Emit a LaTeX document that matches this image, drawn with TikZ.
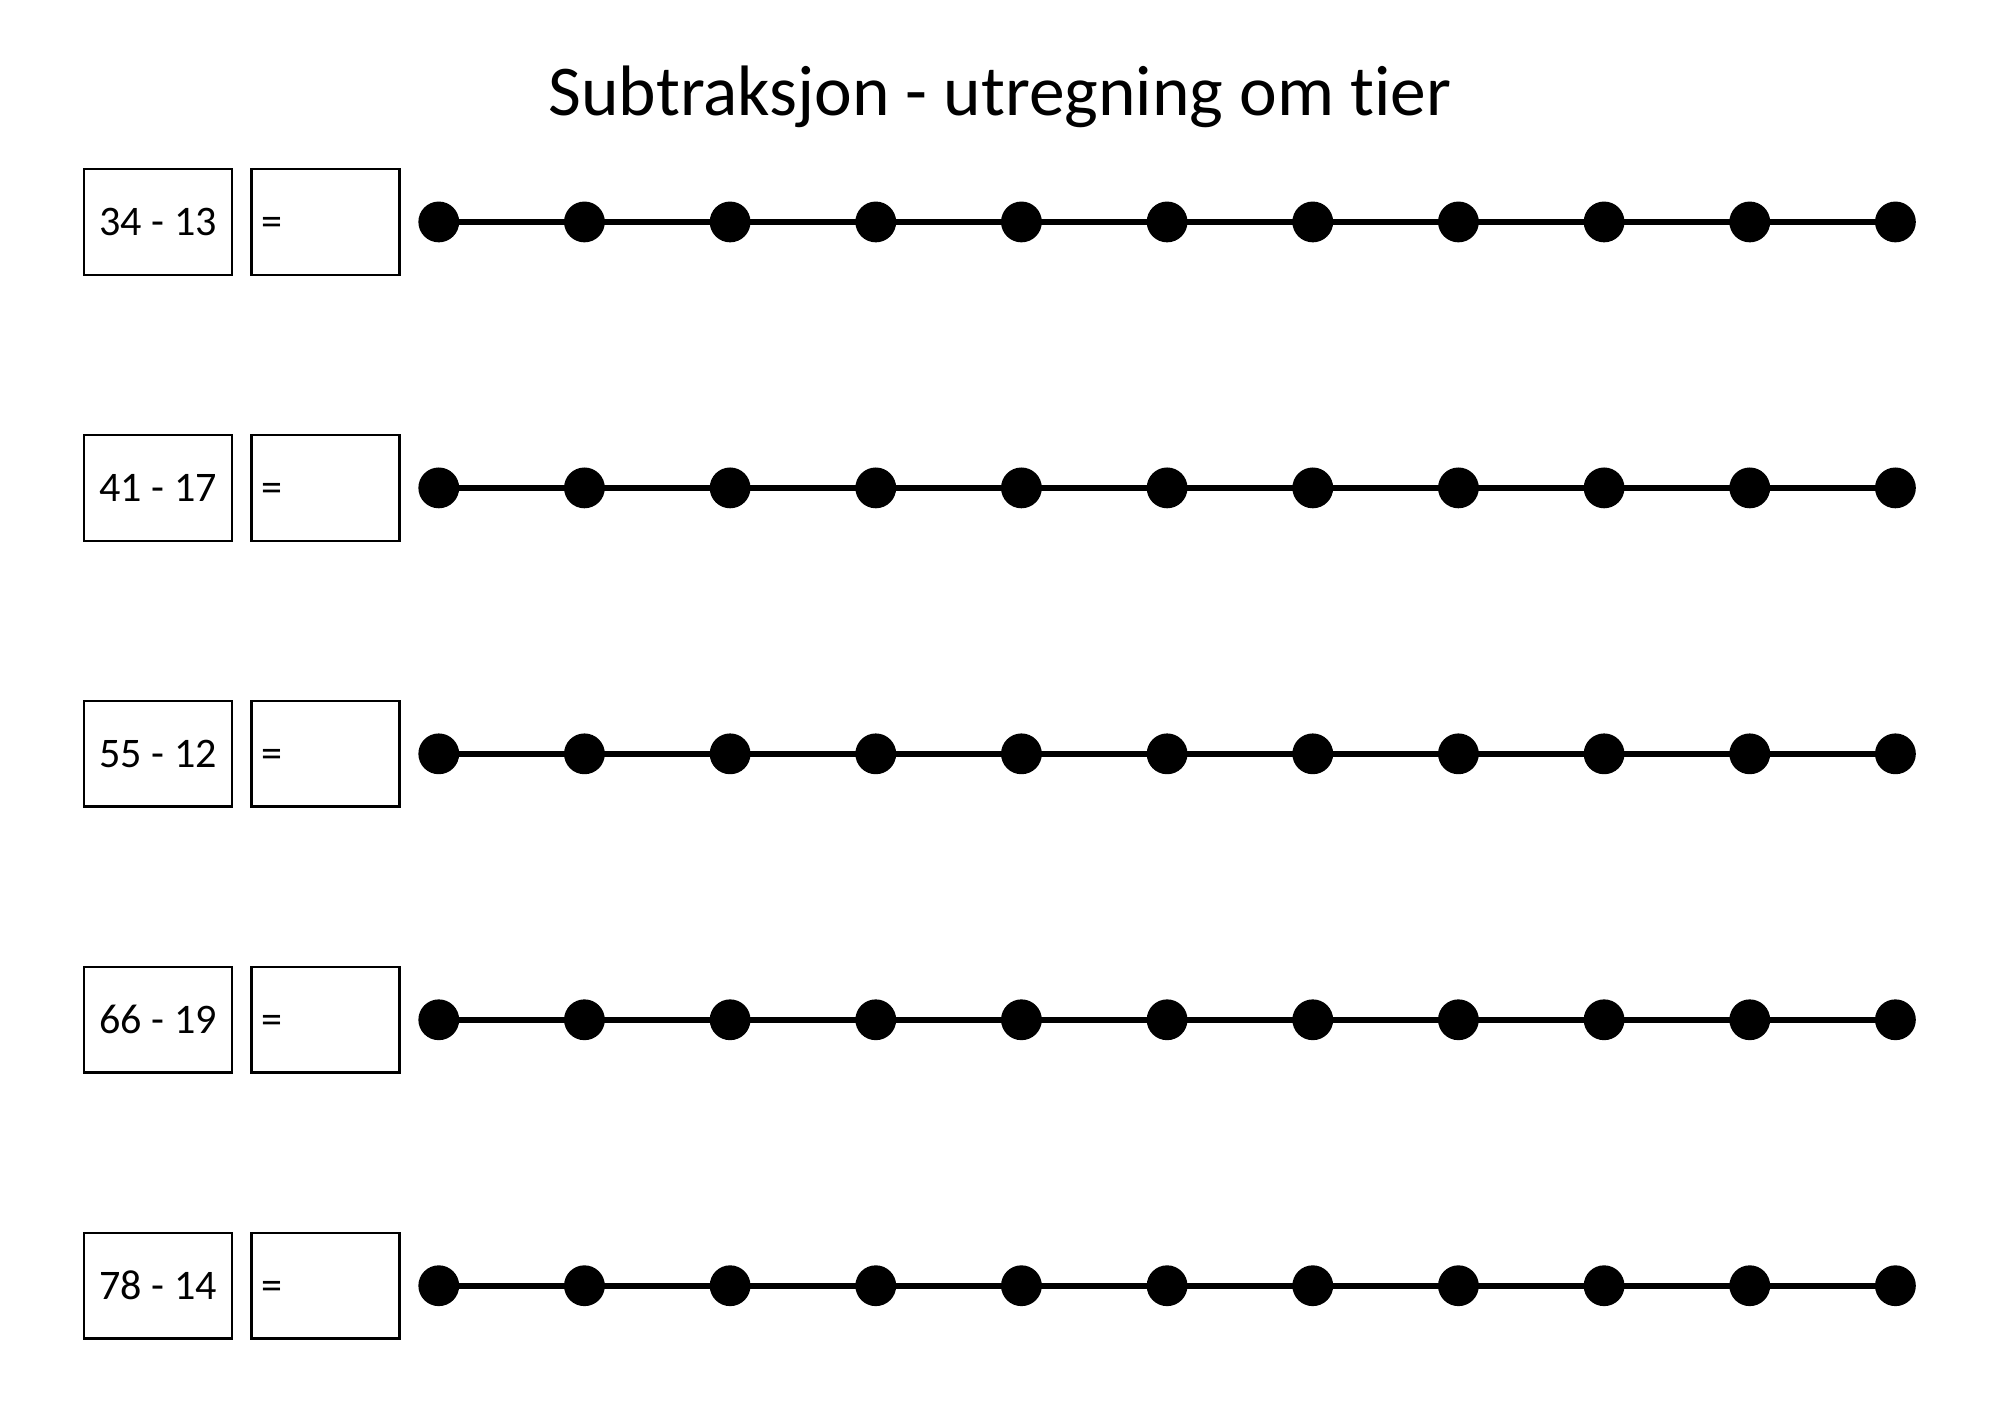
\documentclass[tikz,border=0pt]{standalone}
\usepackage{fontspec}
\setmainfont{Carlito}[Ligatures=NoCommon]
\begin{document}
\begin{tikzpicture}[x=1pt,y=-1pt,
  box/.style={draw,line width=2pt,minimum width=116pt,minimum height=83pt,inner sep=0pt},
  dot/.style={circle,fill=black,minimum size=32pt,inner sep=0pt}]
\useasboundingbox (0,0) rectangle (1568,1108.5);
\node[font=\fontsize{56}{64}\selectfont] (title) at (784,76) {Subtraksjon - utregning om tier};
\foreach \t [count=\r from 0] in {34 - 13,41 - 17,55 - 12,66 - 19,78 - 14}{
  \pgfmathsetmacro{\yy}{174+208.5*\r}
  \node[box,font=\fontsize{33}{38}\selectfont] (a\r) at (124,\yy) {\t};
  \node[box,font=\fontsize{33}{38}\selectfont,text width=100pt,align=left] (b\r) at (255,\yy) {\vphantom{0}=};
  \foreach \i in {0,...,10}{
    \node[dot] (d\r-\i) at (344+114.2*\i,\yy) {};
  }
  \draw[line width=4.5pt] (d\r-0.center) -- (d\r-10.center);
}
\end{tikzpicture}
\end{document}
